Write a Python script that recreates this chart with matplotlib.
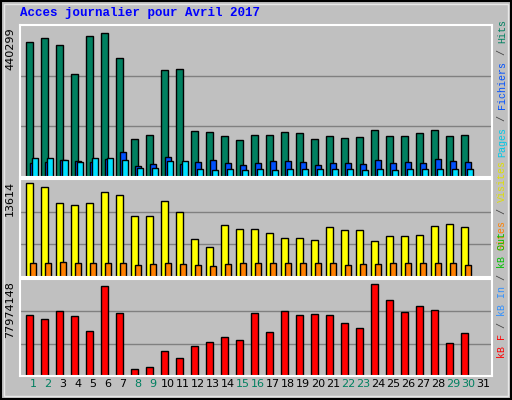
import matplotlib
matplotlib.use("Agg")
import matplotlib.pyplot as plt
from matplotlib.patches import Rectangle

days = list(range(1, 32))
weekend = [1, 2, 8, 9, 15, 16, 22, 23, 29, 30]

hits = [402, 414, 394, 306, 420, 429, 356, 114, 125, 318, 321, 137, 134, 122, 111, 125,
        125, 134, 131, 114, 122, 117, 120, 140, 122, 122, 131, 140, 122, 125, 0]
files = [41, 44, 50, 47, 44, 55, 76, 32, 38, 61, 38, 44, 50, 41, 35, 41,
         47, 47, 44, 35, 41, 41, 38, 52, 41, 44, 41, 55, 47, 44, 0]
pages = [58, 58, 52, 44, 58, 58, 50, 26, 26, 47, 47, 23, 20, 23, 20, 23,
         20, 23, 23, 23, 23, 23, 20, 23, 20, 23, 23, 23, 23, 23, 0]
visits = [13470, 12880, 10540, 10250, 10540, 12150, 11710, 8780, 8780, 10830, 9370, 5420,
          4250, 7470, 6880, 6880, 6300, 5560, 5560, 5270, 7170, 6730, 6730, 5120, 5860,
          5860, 6000, 7320, 7610, 7170, 0]
sites = [2050, 2050, 2200, 2050, 2050, 2050, 2050, 1760, 1900, 2050, 1900, 1760, 1610,
         1900, 2050, 2050, 2050, 2050, 2050, 2050, 2050, 1760, 1900, 1900, 2050, 2050,
         2050, 2050, 2050, 1760, 0]
kb = [48.7, 45.5, 52.0, 47.9, 36.5, 72.3, 50.3, 5.7, 7.3, 20.3, 14.6, 24.4, 27.6, 31.7,
      29.2, 50.3, 35.7, 52.0, 48.7, 49.5, 48.7, 43.0, 38.2, 73.9, 60.9, 51.2, 56.0,
      52.8, 26.8, 34.9, 0]
kb = [v * 1e6 for v in kb]
hits = [v * 1000 for v in hits]
files = [v * 1000 for v in files]
pages = [v * 1000 for v in pages]

W, H = 512, 400
fig = plt.figure(figsize=(W / 100, H / 100), dpi=100, facecolor="#c0c0c0")
mono = "Liberation Mono"


def fy(py):
    return 1 - py / H


def make_ax(top, bottom, ymax, nlines):
    ax = fig.add_axes([20 / W, fy(bottom), 472 / W, (bottom - top) / H])
    ax.set_facecolor("#c0c0c0")
    ax.set_xlim(0.13, 31.6)
    ax.set_ylim(0, ymax)
    for i in range(1, nlines):
        ax.axhline(ymax * i / nlines, color="#808080", lw=1, zorder=0)
    ax.set_xticks([])
    ax.set_yticks([])
    for s in ax.spines.values():
        s.set_color("white")
        s.set_linewidth(1.5)
    return ax


ax1 = make_ax(25, 177, 440299 * 1.03, 3)
kw = dict(edgecolor="black", linewidth=1)
ax1.bar([d - 0.23 for d in days], hits, width=0.45, color="#008060", **kw)
ax1.bar([d + 0.0 for d in days], files, width=0.45, color="#0050ff", **kw)
ax1.bar([d + 0.13 for d in days], pages, width=0.45, color="#00e0ff", **kw)

ax2 = make_ax(179, 277, 13614 * 1.03, 3)
ax2.bar([d - 0.23 for d in days], visits, width=0.45, color="#ffff00", **kw)
ax2.bar([d + 0.0 for d in days], sites, width=0.45, color="#ff8000", **kw)

ax3 = make_ax(279, 376, 77974148, 3)
ax3.bar([d - 0.23 for d in days], kb, width=0.45, color="#ff0000", **kw)

for d in days:
    c = "#008060" if d in weekend else "black"
    ax3.text(d, -0.03, str(d), transform=ax3.get_xaxis_transform(), ha="center",
             va="top", fontsize=8, color=c, family="DejaVu Sans")

for label, top in [("440299", 27), ("13614", 181), ("77974148", 281)]:
    fig.text(10 / W, fy(top), label, rotation=90, ha="center", va="top",
             fontsize=8, family="DejaVu Sans")

fig.text(20 / W, fy(13), "Acces journalier pour Avril 2017", color="#0000ff",
         fontsize=9, fontweight="bold", family=mono, va="center")

step = 6.0
groups = [
    (157, [("Pages", "#00c8e8"), (" / ", "#404040"), ("Fichiers", "#0050ff"),
           (" / ", "#404040"), ("Hits", "#008060")]),
    (250, [("Sites", "#ff8000"), (" / ", "#404040"), ("Visites", "#e0e000")]),
    (358, [("kB F", "#ff0000"), (" / ", "#404040"), ("kB In", "#3090ff"),
           (" / ", "#404040"), ("kB Out", "#00c000")]),
]
for start, segs in groups:
    y = start
    for txt, col in segs:
        fig.text(502 / W, fy(y), txt, rotation=90, ha="center", va="bottom",
                 fontsize=7.2, color=col, family=mono)
        y -= len(txt) * step

fig.patches.append(Rectangle((1 / W, 1 / H), 1 - 2 / W, 1 - 2 / H, transform=fig.transFigure,
                             fill=False, edgecolor="black", lw=1.5))
fig.patches.append(Rectangle((4 / W, 4 / H), 1 - 8 / W, 1 - 8 / H, transform=fig.transFigure,
                             fill=False, edgecolor="#e8e8e8", lw=1))

fig.savefig("out.png", dpi=100, facecolor=fig.get_facecolor())
